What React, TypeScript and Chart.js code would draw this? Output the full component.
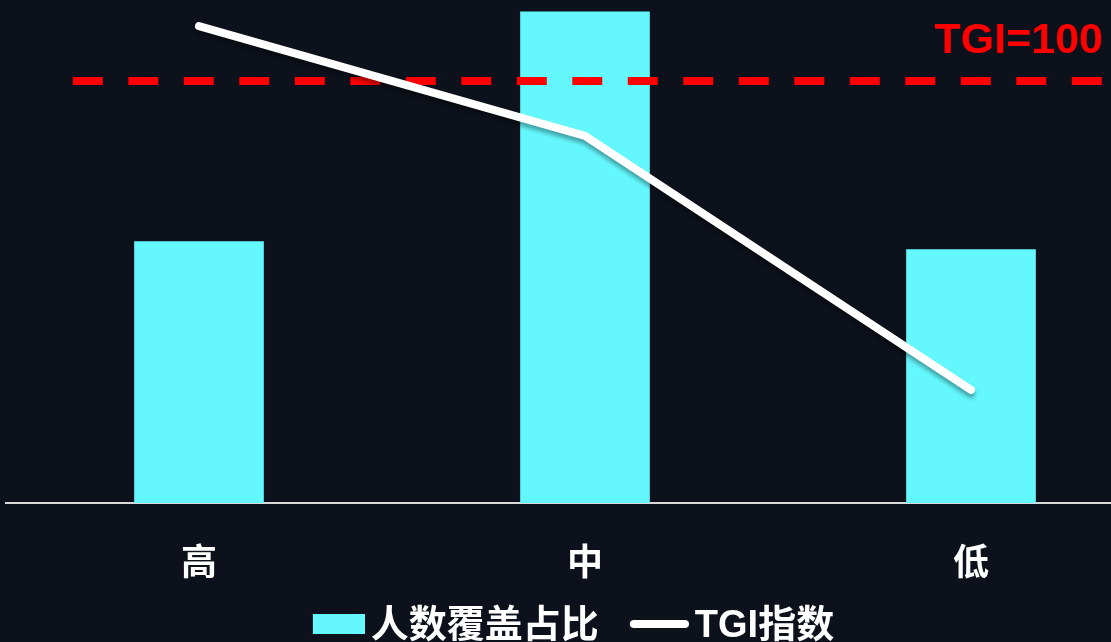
import React, { useEffect, useRef } from "react";
import { Chart, registerables } from "chart.js";

Chart.register(...registerables);

const categories = ["高", "中", "低"];
const coverageShare = [26.5, 49.8, 25.7];
const tgiValues = [113, 87, 26.8];
const tgiBaseline = 100;
const baselineLabel = "TGI=100";
const legendLabels = ["人数覆盖占比", "TGI指数"];

const BG = "#0d111b";
const CYAN = "#64f8fe";
const RED = "#ff0000";
const FONT = "'Liberation Sans', 'Noto Sans CJK SC', sans-serif";
const W = 1111;
const H = 642;

function makeBoxSwatch(): HTMLCanvasElement {
  const c = document.createElement("canvas");
  c.width = 85;
  c.height = 26;
  const ctx = c.getContext("2d")!;
  ctx.fillStyle = CYAN;
  ctx.fillRect(33, 0, 52, 20);
  return c;
}

function makeLineSwatch(): HTMLCanvasElement {
  const c = document.createElement("canvas");
  c.width = 85;
  c.height = 14;
  const ctx = c.getContext("2d")!;
  ctx.strokeStyle = "#ffffff";
  ctx.lineWidth = 8;
  ctx.lineCap = "round";
  ctx.beginPath();
  ctx.moveTo(30, 4);
  ctx.lineTo(81, 4);
  ctx.stroke();
  return c;
}

export default function App() {
  const ref = useRef<HTMLCanvasElement | null>(null);

  useEffect(() => {
    if (!ref.current) return;

    const boxSwatch = makeBoxSwatch();
    const lineSwatch = makeLineSwatch();

    const lineShadow = {
      id: "lineShadow",
      beforeDatasetDraw(chart: any, args: any) {
        if (args.index === 2) {
          const ctx = chart.ctx;
          ctx.save();
          ctx.shadowColor = "rgba(0,0,0,0.35)";
          ctx.shadowBlur = 4;
          ctx.shadowOffsetY = 4;
        }
      },
      afterDatasetDraw(chart: any, args: any) {
        if (args.index === 2) chart.ctx.restore();
      },
    };

    const baselineText = {
      id: "baselineText",
      afterDatasetsDraw(chart: any) {
        const ctx = chart.ctx;
        const y = chart.scales.y2.getPixelForValue(tgiBaseline);
        ctx.save();
        ctx.font = `bold 43px ${FONT}`;
        ctx.fillStyle = RED;
        ctx.textAlign = "right";
        ctx.textBaseline = "alphabetic";
        ctx.fillText(baselineLabel, W - 8, y - 28);
        ctx.restore();
      },
    };

    const chart = new Chart(ref.current, {
      type: "bar",
      data: {
        datasets: [
          {
            type: "bar",
            label: legendLabels[0],
            data: categories.map((_, i) => ({ x: i, y: coverageShare[i] })),
            backgroundColor: CYAN,
            borderWidth: 0,
            barThickness: 129,
            yAxisID: "y",
            order: 3,
          } as any,
          {
            type: "line",
            label: "baseline",
            data: [
              { x: -0.327, y: tgiBaseline },
              { x: 2.3627, y: tgiBaseline },
            ],
            borderColor: RED,
            borderWidth: 8,
            borderDash: [30, 25.5],
            pointRadius: 0,
            yAxisID: "y2",
            order: 2,
          },
          {
            type: "line",
            label: legendLabels[1],
            data: categories.map((_, i) => ({ x: i, y: tgiValues[i] })),
            borderColor: "#ffffff",
            borderWidth: 8,
            borderCapStyle: "round",
            borderJoinStyle: "round",
            tension: 0,
            pointRadius: 0,
            yAxisID: "y2",
            order: 1,
          },
        ],
      },
      options: {
        responsive: false,
        animation: false,
        devicePixelRatio: 1,
        layout: { padding: { left: 6, right: -10, top: 0, bottom: -14 } },
        scales: {
          x: {
            type: "linear",
            offset: false,
            min: -0.5,
            max: 2.3627,
            afterBuildTicks(scale: any) {
              scale.ticks = categories.map((_, i) => ({ value: i }));
            },
            afterFit(scale: any) {
              scale.height = 87;
            },
            grid: { display: false, drawTicks: false, offset: false },
            border: { display: true, color: "#d9d9d9", width: 2 },
            ticks: {
              padding: 40,
              color: "#ffffff",
              font: { size: 36, weight: "bold", family: FONT },
              callback: (v: any) => categories[v as number] ?? "",
              maxRotation: 0,
              autoSkip: false,
            },
          },
          y: { display: false, min: 0, max: 51 },
          y2: { display: false, min: 0, max: 119.2 },
        },
        plugins: {
          tooltip: { enabled: false },
          legend: {
            position: "bottom",
            labels: {
              usePointStyle: true,
              pointStyleWidth: 59,
              boxHeight: 20,
              padding: 18,
              color: "#ffffff",
              font: { size: 38, weight: "bold", family: FONT },
              generateLabels: () => [
                {
                  text: legendLabels[0],
                  fillStyle: CYAN,
                  strokeStyle: CYAN,
                  lineWidth: 0,
                  pointStyle: boxSwatch,
                  fontColor: "#ffffff",
                  hidden: false,
                  datasetIndex: 0,
                },
                {
                  text: legendLabels[1],
                  fillStyle: "#ffffff",
                  strokeStyle: "#ffffff",
                  lineWidth: 0,
                  pointStyle: lineSwatch,
                  fontColor: "#ffffff",
                  hidden: false,
                  datasetIndex: 2,
                },
              ],
            },
          },
        },
      } as any,
      plugins: [lineShadow, baselineText],
    });

    return () => chart.destroy();
  }, []);

  return (
    <div
      style={{
        position: "fixed",
        left: 0,
        top: 0,
        width: W,
        height: H,
        background: BG,
      }}
    >
      <canvas ref={ref} width={W} height={H} style={{ display: "block" }} />
    </div>
  );
}
